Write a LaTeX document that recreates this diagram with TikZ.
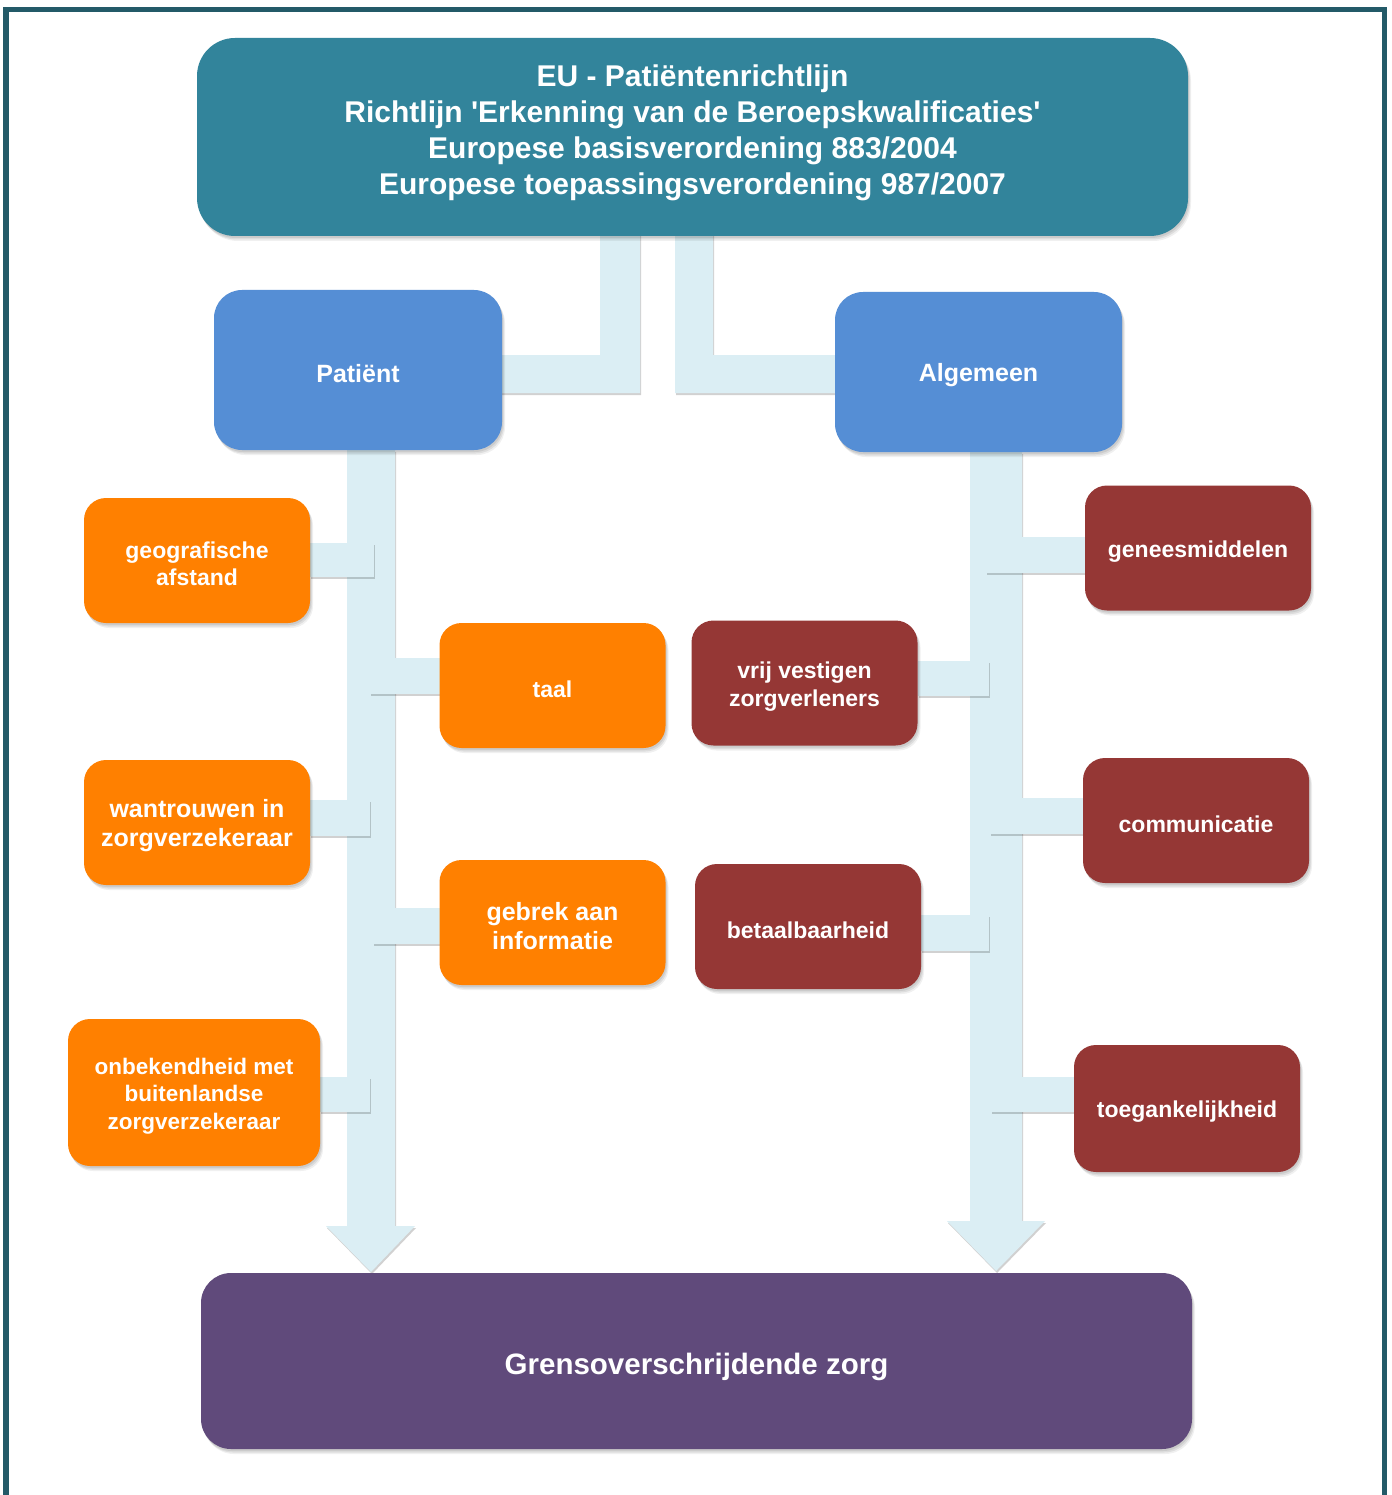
\documentclass[tikz,border=0pt]{standalone}
\usepackage{fontspec}
\setmainfont{Liberation Sans}
\usetikzlibrary{shadows}
\definecolor{cFrame}{HTML}{235A68}
\definecolor{cTop}{HTML}{32849B}
\definecolor{cBlue}{HTML}{558ED5}
\definecolor{cOrange}{HTML}{FF8000}
\definecolor{cRed}{HTML}{953735}
\definecolor{cPurple}{HTML}{604A7B}
\definecolor{cBand}{HTML}{DBEEF4}
\begin{document}
\begin{tikzpicture}[x=1pt,y=-1pt,
  softshadow/.style={
    general shadow={shadow xshift=1pt, shadow yshift=-2pt, fill=black, opacity=0.08},
    general shadow={shadow xshift=2pt, shadow yshift=-3.5pt, fill=black, opacity=0.08},
    general shadow={shadow xshift=3pt, shadow yshift=-5pt, fill=black, opacity=0.06}},
  box/.style={rectangle, rounded corners=22pt, inner sep=0pt, softshadow},
  small/.style={box, minimum width=226pt, minimum height=125pt},
  lbl/.style={text=white, align=center, inner sep=0pt, yshift=-3.5pt,
    font=\bfseries\fontsize{23}{27.5}\selectfont},
  lblbig/.style={lbl, font=\bfseries\fontsize{25}{29}\selectfont},
  band/.style={fill=cBand, general shadow={shadow xshift=1pt, shadow yshift=-2pt, fill=black, opacity=0.18}}]
\useasboundingbox (0,0) rectangle (1391,1495);
\fill[white] (0,0) rectangle (1391,1495);
% frame
\draw[cFrame, line width=5.5pt] (6,1500) -- (6,9.5) -- (1384.5,9.5) -- (1384.5,1500);

% trunks with arrow heads
\coordinate (ltip) at (371,1272);
\coordinate (rtip) at (996,1271);
\fill[band] (347,450) -- (395,450) -- (395,1226) -- (415,1226) -- (ltip) -- (326,1226) -- (347,1226) -- cycle;
\fill[band] (970,452) -- (1022,452) -- (1022,1221) -- (1045,1221) -- (rtip) -- (947,1221) -- (970,1221) -- cycle;

% stubs
\fill[band] (310,543) rectangle (374,577);
\fill[band] (370,658) rectangle (440,694);
\fill[band] (310,800) rectangle (370,836);
\fill[band] (373,908) rectangle (440,944);
\fill[band] (320,1077) rectangle (370,1112);
\fill[band] (986,537) rectangle (1085,573);
\fill[band] (918,661) rectangle (989,696);
\fill[band] (990,798) rectangle (1083,834);
\fill[band] (921,915) rectangle (989,951);
\fill[band] (991,1077) rectangle (1074,1112);

% top L connectors
\fill[band] (600,230) -- (640,230) -- (640,393) -- (500,393) -- (500,355) -- (600,355) -- cycle;
\fill[band] (675,230) -- (713,230) -- (713,355) -- (838,355) -- (838,393) -- (675,393) -- cycle;

% boxes
\node[box, fill=cTop, rounded corners=38pt, minimum width=991pt, minimum height=198pt,
  label={[lbl, yshift=7.5pt, font=\bfseries\fontsize{30}{36}\selectfont]center:{EU - Patiëntenrichtlijn\\Richtlijn \textquotesingle Erkenning van de Beroepskwalificaties\textquotesingle\\Europese basisverordening 883/2004\\Europese toepassingsverordening 987/2007}}]
  (top) at (692.5,137) {};

\node[box, fill=cBlue, rounded corners=28pt, minimum width=288pt, minimum height=160pt,
  label={[lblbig]center:Patiënt}] (pat) at (358,370) {};
\node[box, fill=cBlue, rounded corners=28pt, minimum width=287pt, minimum height=160pt,
  label={[lblbig]center:Algemeen}] (alg) at (978.5,372) {};

\node[small, fill=cOrange, label={[lbl]center:{geografische\\afstand}}] (geo) at (197,560.5) {};
\node[small, fill=cOrange, label={[lbl]center:taal}] (taal) at (552.5,685.5) {};
\node[small, fill=cOrange, label={[lblbig]center:{wantrouwen in\\zorgverzekeraar}}] (wan) at (197,822.5) {};
\node[small, fill=cOrange, label={[lblbig]center:{gebrek aan\\informatie}}] (geb) at (552.5,922.5) {};
\node[small, fill=cOrange, minimum width=252pt, minimum height=147pt,
  label={[lbl, font=\bfseries\fontsize{22.5}{27.5}\selectfont]center:{onbekendheid met\\buitenlandse\\zorgverzekeraar}}] (onb) at (194,1092.5) {};

\node[small, fill=cRed, label={[lbl]center:geneesmiddelen}] (gen) at (1198,548) {};
\node[small, fill=cRed, label={[lbl]center:{vrij vestigen\\zorgverleners}}] (vrij) at (804.5,683) {};
\node[small, fill=cRed, label={[lbl]center:communicatie}] (com) at (1196,820.5) {};
\node[small, fill=cRed, label={[lbl]center:betaalbaarheid}] (bet) at (808,926.5) {};
\node[small, fill=cRed, minimum height=127pt, label={[lbl]center:toegankelijkheid}] (toe) at (1187,1108.5) {};

\node[box, fill=cPurple, rounded corners=30pt, minimum width=991pt, minimum height=176pt,
  label={[lbl, yshift=-2.5pt, font=\bfseries\fontsize{29.5}{35}\selectfont]center:Grensoverschrijdende zorg}] (grens) at (696.5,1361) {};
\end{tikzpicture}
\end{document}
